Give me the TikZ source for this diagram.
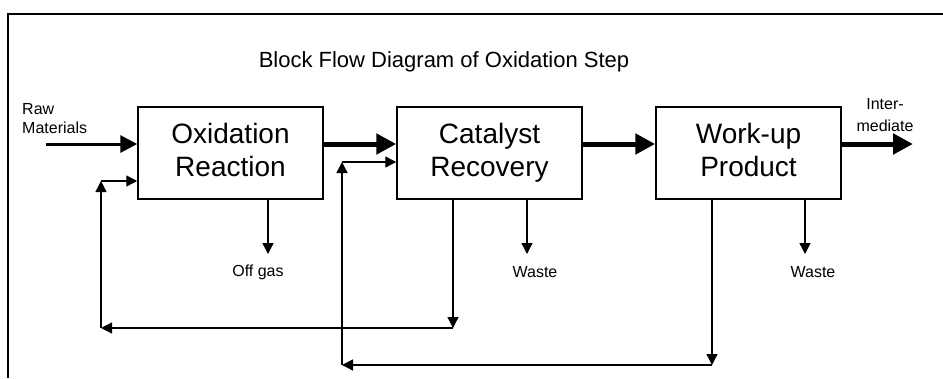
\documentclass[tikz,border=0pt]{standalone}
\usepackage{fontspec}
\setmainfont{Liberation Sans}
\usetikzlibrary{arrows.meta}
\begin{document}
\begin{tikzpicture}[x=1pt,y=-1pt,
  blk/.style={draw, line width=1.5pt, minimum width=185pt, minimum height=92pt,
    inner sep=0pt, align=center, font=\fontsize{28}{33}\selectfont},
  lbl/.style={font=\fontsize{16}{19}\selectfont, inner sep=0pt, align=center},
  flow/.style={line width=1.4pt, -{Triangle[length=11pt,width=11pt]}},
  mainflow/.style={line width=5pt, -{Triangle[length=20pt,width=20pt]}},
  rawflow/.style={line width=3pt, -{Triangle[length=17pt,width=17pt]}}]
\useasboundingbox (0,0) rectangle (943,378);
% frame
\draw[line width=2pt] (943,13.5) -- (8,13.5) -- (8,378);
% title
\node[font=\fontsize{22}{26}\selectfont, inner sep=0pt] (title) at (444,62) {Block Flow Diagram of Oxidation Step};
% blocks
\node[blk] (b1) at (230.5,153) {\strut Oxidation\\\strut Reaction};
\node[blk] (b2) at (489.5,153) {\strut Catalyst\\\strut Recovery};
\node[blk] (b3) at (748.5,153) {\strut Work-up\\\strut Product};
% labels
\node[lbl, anchor=west, align=left] (raw) at (22,119) {Raw\\Materials};
\node[lbl, font=\fontsize{16}{22}\selectfont] (inter) at (885,115) {Inter-\\mediate};
\node[lbl] (offgas) at (258,272) {Off gas};
\node[lbl] (waste1) at (535,272) {Waste};
\node[lbl] (waste2) at (813,272) {Waste};
% coordinates
\coordinate (rawstart) at (46,144);
\coordinate (outend) at (913,144);
\coordinate (og) at (268,254);
\coordinate (w1) at (527,254);
\coordinate (w2) at (805,254);
\coordinate (c1) at (453,328);
\coordinate (c2) at (101,328);
\coordinate (c3) at (101,181);
\coordinate (c4) at (712,365);
\coordinate (c5) at (342,365);
\coordinate (c6) at (342,162);
% main flow
\draw[rawflow] (rawstart) -- (rawstart -| b1.west);
\draw[mainflow] ([yshift=9pt]b1.east) -- ([yshift=9pt]b2.west);
\draw[mainflow] ([yshift=9pt]b2.east) -- ([yshift=9pt]b3.west);
\draw[mainflow] ([yshift=9pt]b3.east) -- (outend);
% side outputs
\draw[flow] (b1.south -| og) -- (og);
\draw[flow] (b2.south -| w1) -- (w1);
\draw[flow] (b3.south -| w2) -- (w2);
% recycle 1
\draw[flow] (b2.south -| c1) -- (c1);
\draw[flow] (c1) -- (c2);
\draw[flow] (c2) -- (c3);
\draw[flow] (c3) -- (c3 -| b1.west);
% recycle 2
\draw[flow] (b3.south -| c4) -- (c4);
\draw[flow] (c4) -- (c5);
\draw[flow] (c5) -- (c6);
\draw[flow] (c6) -- (c6 -| b2.west);
\end{tikzpicture}
\end{document}
